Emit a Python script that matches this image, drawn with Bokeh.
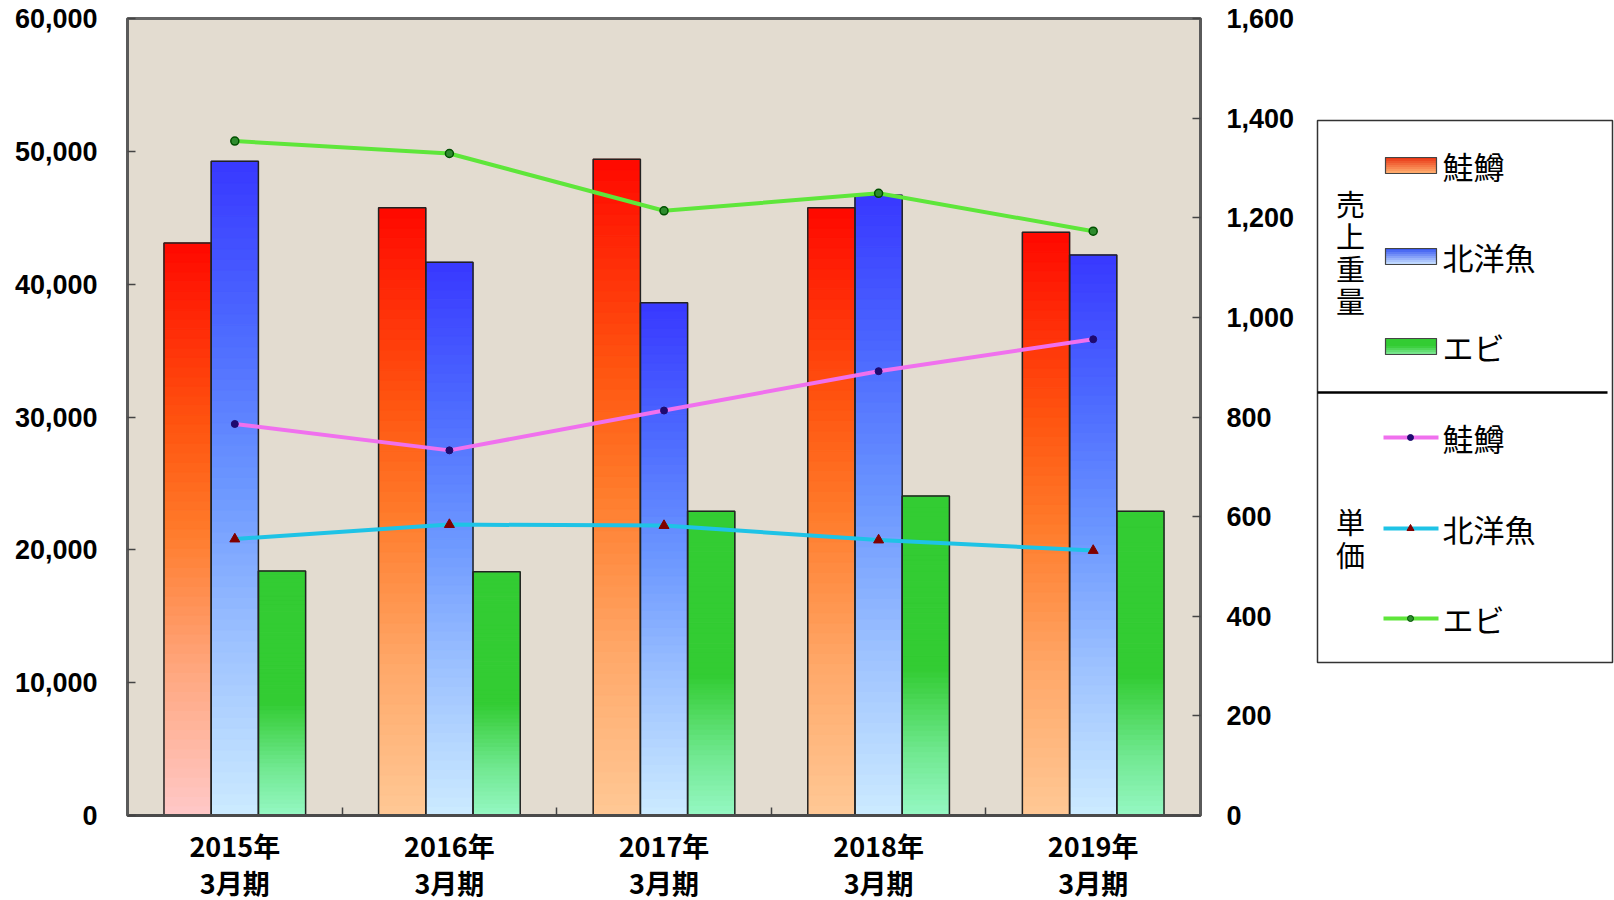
from bokeh.plotting import figure
from bokeh.models import (Range1d, LinearAxis, FixedTicker, NumeralTickFormatter)
from bokeh.layouts import row
from bokeh.core.properties import value
from bokeh.embed import file_html
from bokeh.resources import INLINE

# ---------------- data ----------------
years = ["2015年", "2016年", "2017年", "2018年", "2019年"]
periods = ["3月期", "3月期", "3月期", "3月期", "3月期"]
weight_salmon = [43100, 45750, 49400, 45750, 43900]   # 売上重量 鮭鱒
weight_hokuyo = [49250, 41650, 38600, 46700, 42200]   # 売上重量 北洋魚
weight_ebi = [18400, 18350, 22900, 24050, 22900]      # 売上重量 エビ
price_salmon = [786, 733, 813, 892, 956]              # 単価 鮭鱒
price_hokuyo = [555, 584, 582, 553, 532]              # 単価 北洋魚
price_ebi = [1354, 1329, 1214, 1249, 1173]            # 単価 エビ
left_ticks = [0, 10000, 20000, 30000, 40000, 50000, 60000]
right_ticks = [0, 200, 400, 600, 800, 1000, 1200, 1400, 1600]
series_names = ["鮭鱒", "北洋魚", "エビ"]

# ---------------- styles ----------------
red_stops = [(0.0, "#FFC896"), (0.25, "#FFA868"), (0.5, "#FF7A2A"), (0.68, "#FF5510"), (1.0, "#FF0800")]
red_stops_first = [(0.0, "#FFC8C8"), (0.25, "#FFA880"), (0.5, "#FF7A2A"), (0.68, "#FF5510"), (1.0, "#FF0800")]
blue_stops = [(0.0, "#CCEBFF"), (0.25, "#A0C4FF"), (0.5, "#6C98FF"), (0.75, "#4C68FF"), (1.0, "#3838FF")]
green_stops = [(0.0, "#96F8C4"), (0.2, "#70E890"), (0.46, "#33CC33"), (1.0, "#33CC33")]

def hex2rgb(h):
    h = h.lstrip("#")
    return tuple(int(h[i:i + 2], 16) for i in (0, 2, 4))

def grad(stops, t):
    for (t0, c0), (t1, c1) in zip(stops[:-1], stops[1:]):
        if t <= t1:
            f = 0 if t1 == t0 else (t - t0) / (t1 - t0)
            a, b = hex2rgb(c0), hex2rgb(c1)
            return "#%02x%02x%02x" % tuple(round(a[i] + (b[i] - a[i]) * f) for i in range(3))
    return stops[-1][1]

FONT_JP = "Noto Sans CJK JP"
FRAME_TOP, FRAME_BOTTOM = 18, 815

p = figure(frame_width=1073, frame_height=FRAME_BOTTOM - FRAME_TOP,
           output_backend="svg", toolbar_location=None,
           x_range=Range1d(-0.5, 4.5), y_range=Range1d(0, 60000),
           min_border_left=127, min_border_right=100, min_border_top=FRAME_TOP, min_border_bottom=0,
           x_axis_location=None, y_axis_location=None)
p.extra_y_ranges = {"price": Range1d(0, 1600)}
p.background_fill_color = "#E3DCD0"
p.border_fill_color = "white"
p.outline_line_color = "#666666"
p.outline_line_width = 3
p.xgrid.visible = False
p.ygrid.visible = False

# ---------------- gradient bars ----------------
bw = 0.22
offsets = [-0.22, 0.0, 0.22]
N = 60
L, R, B, T, C = [], [], [], [], []
OL, OR, OT = [], [], []
for si, vals in enumerate([weight_salmon, weight_hokuyo, weight_ebi]):
    for ci, v in enumerate(vals):
        if si == 0:
            stops = red_stops_first if ci == 0 else red_stops
        elif si == 1:
            stops = blue_stops
        else:
            stops = green_stops
        xc = ci + offsets[si]
        for k in range(N):
            L.append(xc - bw / 2)
            R.append(xc + bw / 2)
            B.append(v * k / N)
            T.append(v * (k + 1) / N)
            C.append(grad(stops, (k + 0.5) / N))
        OL.append(xc - bw / 2)
        OR.append(xc + bw / 2)
        OT.append(v)
p.quad(left=L, right=R, bottom=B, top=T, fill_color=C, line_color=C, line_width=1)
p.quad(left=OL, right=OR, bottom=[0] * len(OT), top=OT, fill_alpha=0,
       line_color="#222222", line_width=1.5)

# ---------------- price lines ----------------
xs = list(range(len(years)))
p.line(xs, price_salmon, y_range_name="price", line_color="#F070EE", line_width=4)
p.line(xs, price_hokuyo, y_range_name="price", line_color="#1EC3E6", line_width=4)
p.line(xs, price_ebi, y_range_name="price", line_color="#5EE63A", line_width=4)
p.scatter(xs, price_salmon, y_range_name="price", marker="circle", size=7,
          fill_color="#1E0A70", line_color="#1E0A70")
p.scatter(xs, price_hokuyo, y_range_name="price", marker="triangle", size=10,
          fill_color="#800000", line_color="#800000")
p.scatter(xs, price_ebi, y_range_name="price", marker="circle", size=8,
          fill_color="#2E8B2E", line_color="#005000", line_width=1.5)

# ---------------- axes ----------------
yl = LinearAxis(ticker=FixedTicker(ticks=left_ticks), formatter=NumeralTickFormatter(format="0,0"))
yr = LinearAxis(y_range_name="price", ticker=FixedTicker(ticks=right_ticks),
                formatter=NumeralTickFormatter(format="0,0"))
for ax in (yl, yr):
    ax.major_label_text_font = "Liberation Sans"
    ax.major_label_text_font_style = "bold"
    ax.major_label_text_font_size = "27px"
    ax.major_label_text_color = "black"
    ax.major_tick_in = 8
    ax.major_tick_out = 0
    ax.major_tick_line_color = "#444444"
    ax.major_tick_line_width = 1.5
    ax.minor_tick_line_color = None
    ax.axis_line_color = "#5a5a5a"
    ax.axis_line_width = 3
yl.major_label_standoff = 30
yr.major_label_standoff = 26
p.add_layout(yl, "left")
p.add_layout(yr, "right")

xa = LinearAxis(ticker=FixedTicker(ticks=xs, minor_ticks=[0.5, 1.5, 2.5, 3.5]))
xa.major_label_overrides = {i: c for i, c in enumerate(years)}
xa.major_label_standoff = 10
xa.major_tick_in = 0
xa.major_tick_out = 0
xa.minor_tick_in = 8
xa.minor_tick_out = 0
xa.minor_tick_line_color = "#444444"
xa.minor_tick_line_width = 1.5
xa.axis_line_color = "#4a4a4a"
xa.axis_line_width = 3

xb = LinearAxis(ticker=FixedTicker(ticks=xs))
xb.major_label_overrides = {i: c for i, c in enumerate(periods)}
xb.major_label_standoff = -11
xb.major_tick_line_color = None
xb.minor_tick_line_color = None
xb.axis_line_color = None
for ax in (xa, xb):
    ax.major_label_text_font = FONT_JP
    ax.major_label_text_font_style = "bold"
    ax.major_label_text_font_size = "27px"
    ax.major_label_text_color = "black"
p.add_layout(xa, "below")
p.add_layout(xb, "below")

# ---------------- legend (separate panel, frame aligned with the main plot) ----------------
lg = figure(width=314, frame_height=FRAME_BOTTOM - FRAME_TOP, output_backend="svg",
            toolbar_location=None,
            x_range=Range1d(1300, 1614), y_range=Range1d(FRAME_BOTTOM, FRAME_TOP),
            min_border=0, min_border_top=FRAME_TOP, x_axis_location=None, y_axis_location=None)
lg.outline_line_color = None
lg.xgrid.visible = False
lg.ygrid.visible = False
lg.background_fill_color = "white"
lg.border_fill_color = "white"

lg.quad(left=[1317], right=[1612], top=[120], bottom=[662], fill_color="white",
        line_color="#333333", line_width=1.5)
lg.line([1317, 1607], [392, 392], line_color="black", line_width=2.5)

# swatches with gradient
sw_rows = [165, 256, 346]
sw_stops = [[(0.0, "#FFB070"), (1.0, "#E83010")],
            [(0.0, "#C8E0FF"), (1.0, "#3050F0")],
            [(0.0, "#80E898"), (0.5, "#33CC33"), (1.0, "#33CC33")]]
sL, sR, sT, sB, sC = [], [], [], [], []
M = 8
for yc, st in zip(sw_rows, sw_stops):
    top, bot = yc - 8, yc + 8
    for k in range(M):
        sL.append(1385); sR.append(1436)
        sT.append(top + (bot - top) * k / M)
        sB.append(top + (bot - top) * (k + 1) / M)
        sC.append(grad(st, 1 - (k + 0.5) / M))
lg.quad(left=sL, right=sR, top=sT, bottom=sB, fill_color=sC, line_color=sC, line_width=1)
lg.quad(left=[1385] * 3, right=[1436] * 3, top=[y - 8 for y in sw_rows],
        bottom=[y + 8 for y in sw_rows], fill_alpha=0, line_color="#444444", line_width=1.2)

# line entries
ln_rows = [437, 528, 618]
ln_colors = ["#F070EE", "#1EC3E6", "#5EE63A"]
for yc, col in zip(ln_rows, ln_colors):
    lg.line([1383, 1438], [yc, yc], line_color=col, line_width=4)
lg.scatter([1410], [ln_rows[0]], marker="circle", size=6, fill_color="#1E0A70", line_color="#1E0A70")
lg.scatter([1410], [ln_rows[1]], marker="triangle", size=7, fill_color="#800000", line_color="#800000")
lg.scatter([1410], [ln_rows[2]], marker="circle", size=6, fill_color="#2E8B2E", line_color="#005000")

lg.text(x=[1442] * 6, y=sw_rows + ln_rows, text=series_names + series_names,
        text_font=value(FONT_JP), text_font_size="31px", text_color="black",
        text_align="left", text_baseline="middle")
lg.text(x=[1350, 1350], y=[251, 537], text=["売\n上\n重\n量", "単\n価"],
        text_font=value(FONT_JP), text_font_size="29px", text_color="black",
        text_align="center", text_baseline="middle", text_line_height=0.77)

layout = row(p, lg)
open("out.html", "w").write(file_html(layout, INLINE))
